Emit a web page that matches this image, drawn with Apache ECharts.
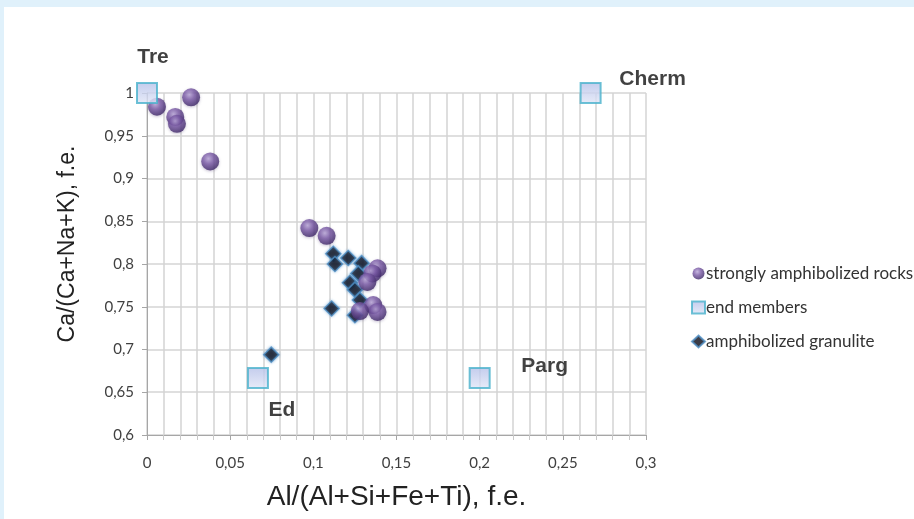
<!DOCTYPE html>
<html><head><meta charset="utf-8">
<script src="https://cdn.jsdelivr.net/npm/echarts@6/dist/echarts.min.js"></script>
<style>html,body{margin:0;padding:0;background:#fff}#c{width:914px;height:519px}</style>
</head><body><div id="c"></div>
<script>
var seriesNames = ['strongly amphibolized rocks', 'end members', 'amphibolized granulite'];
var rocksX = [0.006, 0.0265, 0.017, 0.018, 0.038, 0.0976, 0.108, 0.1386, 0.1355, 0.1325, 0.136, 0.1386, 0.128];
var rocksY = [0.984, 0.995, 0.972, 0.964, 0.920, 0.842, 0.833, 0.795, 0.789, 0.779, 0.752, 0.744, 0.745];
var granX = [0.112, 0.121, 0.113, 0.129, 0.127, 0.122, 0.125, 0.128, 0.111, 0.125, 0.0747];
var granY = [0.812, 0.807, 0.800, 0.801, 0.789, 0.778, 0.770, 0.758, 0.748, 0.740, 0.694];
var endNames = ['Tre', 'Cherm', 'Ed', 'Parg'];
var endX = [0, 0.2667, 0.0667, 0.2];
var endY = [1, 1, 0.6667, 0.6667];
var xTitle = 'Al/(Al+Si+Fe+Ti), f.e.';
var yTitle = 'Ca/(Ca+Na+K), f.e.';

function zip(a, b) { return a.map(function (v, i) { return [v, b[i]]; }); }
function fmt(v) { return String(parseFloat(v.toFixed(2))).replace('.', ','); }

var labelOffset = {
  Tre: [6, -36],
  Cherm: [62, -14],
  Ed: [24, 32],
  Parg: [65, -12]
};

var sphere = {
  type: 'radial', x: 0.4, y: 0.35, r: 0.65,
  colorStops: [{ offset: 0, color: '#b9a6d8' }, { offset: 0.45, color: '#7a5aa6' }, { offset: 1, color: '#3f2868' }]
};
var squareFill = {
  type: 'linear', x: 0, y: 0, x2: 0, y2: 1,
  colorStops: [{ offset: 0, color: '#b4bfe8' }, { offset: 1, color: '#e2e7f7' }]
};

var chart = echarts.init(document.getElementById('c'), null, { renderer: 'canvas' });
chart.setOption({
  backgroundColor: '#fff',
  animation: false,
  graphic: [
    { type: 'rect', shape: { x: 0, y: 0, width: 914, height: 7 }, style: { fill: '#e0f1fb' }, z: 100 },
    { type: 'rect', shape: { x: 0, y: 0, width: 4, height: 519 }, style: { fill: '#e0f1fb' }, z: 100 }
  ],
  grid: { left: 147, right: 268, top: 93, bottom: 84 },
  legend: {
    orient: 'vertical', left: 686, top: 260, itemGap: 17, itemWidth: 13, itemHeight: 12,
    textStyle: { fontFamily: 'Lato', fontSize: 17, color: '#333', padding: [0, 0, 0, -4] },
    data: [
      { name: seriesNames[0], icon: 'circle' },
      { name: seriesNames[1], icon: 'rect' },
      { name: seriesNames[2], icon: 'diamond' }
    ]
  },
  xAxis: {
    type: 'value', min: 0, max: 0.3, interval: 0.05,
    name: xTitle, nameLocation: 'middle', nameGap: 48,
    nameTextStyle: { fontFamily: 'Liberation Sans', fontSize: 28, color: '#222' },
    axisLine: { show: true, lineStyle: { color: '#a6a6a6', width: 1 } },
    axisTick: { show: true, length: 5, lineStyle: { color: '#a6a6a6' } },
    minorTick: { show: true, splitNumber: 5, length: 5, lineStyle: { color: '#c8c8c8' } },
    axisLabel: { formatter: fmt, fontFamily: 'Lato', fontSize: 15, color: '#404040', margin: 21 },
    splitLine: { show: true, lineStyle: { color: '#d4d4d4', width: 1.5 } },
    minorSplitLine: { show: true, lineStyle: { color: '#d4d4d4', width: 1.5 } }
  },
  yAxis: {
    type: 'value', min: 0.6, max: 1, interval: 0.05,
    name: yTitle, nameLocation: 'middle', nameGap: 68, nameRotate: 90,
    nameTextStyle: { fontFamily: 'Liberation Sans', fontSize: 23, color: '#222', padding: [0, 0, 0, 40] },
    axisLine: { show: true, lineStyle: { color: '#a6a6a6', width: 1 } },
    axisTick: { show: true, length: 5, inside: false, lineStyle: { color: '#a6a6a6' } },
    axisLabel: { formatter: fmt, fontFamily: 'Lato', fontSize: 15, color: '#404040', margin: 13 },
    splitLine: { show: true, lineStyle: { color: '#d4d4d4', width: 1.5 } }
  },
  series: [
    {
      name: seriesNames[2], type: 'scatter', symbol: 'diamond', symbolSize: 15, z: 3, clip: false,
      itemStyle: { color: '#0b0b18', borderColor: '#4f8ec4', borderWidth: 1.5, shadowColor: 'rgba(70,140,200,0.6)', shadowBlur: 3 },
      data: zip(granX, granY)
    },
    {
      name: seriesNames[0], type: 'scatter', symbol: 'circle', symbolSize: 18, z: 4, clip: false,
      itemStyle: { color: sphere, shadowColor: 'rgba(60,40,100,0.35)', shadowBlur: 3, shadowOffsetY: 1 },
      data: zip(rocksX, rocksY)
    },
    {
      name: seriesNames[1], type: 'scatter', symbol: 'rect', symbolSize: 20, z: 5, clip: false,
      itemStyle: { color: squareFill, borderColor: '#48b1cc', borderWidth: 2 },
      label: { show: true, position: 'inside', formatter: '{b}', fontFamily: 'Liberation Sans', fontWeight: 'bold', fontSize: 21, color: '#111' },
      data: endNames.map(function (n, i) {
        return { name: n, value: [endX[i], endY[i]], label: { offset: labelOffset[n] } };
      })
    }
  ]
});
</script></body></html>
